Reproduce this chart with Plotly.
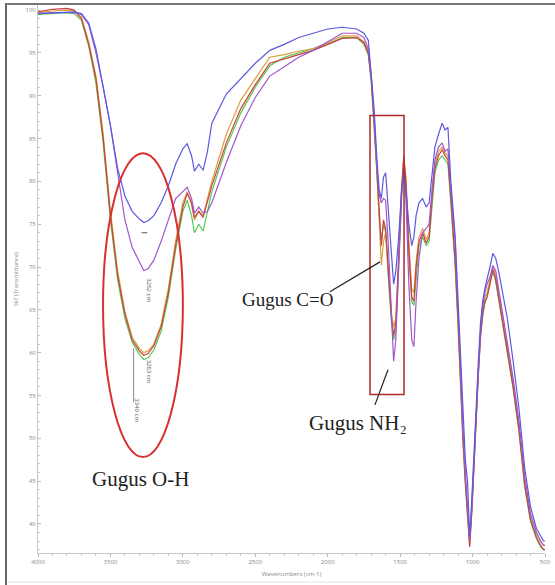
import plotly.graph_objects as go

# ---- data -------------------------------------------------------------
wavenumber = [
    4000, 3900, 3800, 3750, 3700, 3650, 3600, 3550, 3500, 3450,
    3400, 3350, 3300, 3270, 3240, 3200, 3150, 3100, 3050, 3000,
    2970, 2940, 2920, 2890, 2860, 2830, 2800, 2700, 2600, 2500,
    2400, 2300, 2200, 2100, 2000, 1900, 1800, 1750, 1720, 1700,
    1680, 1660, 1645, 1630, 1615, 1600, 1580, 1560, 1545, 1530,
    1510, 1490, 1475, 1460, 1440, 1420, 1405, 1390, 1370, 1345,
    1320, 1300, 1280, 1260, 1235, 1210, 1190, 1170, 1150, 1135,
    1120, 1100, 1085, 1065, 1050, 1035, 1020, 1005, 990, 975,
    960, 945, 930, 915, 900, 880, 860, 840, 820, 800,
    760, 720, 680, 640, 600, 560, 530, 510, 500,
]

t_blue = [
    99.6, 99.7, 99.8, 99.8, 99.6, 98.5, 95.5, 91.0, 86.5, 81.5,
    78.3, 76.5, 75.6, 75.2, 75.4, 76.0, 77.5, 79.5, 82.0, 83.8,
    84.4, 83.0, 81.2, 82.0, 81.3, 83.5, 86.8, 90.2, 92.0, 93.8,
    95.3, 96.0, 96.8, 97.3, 97.8, 98.0, 97.8, 97.3, 96.5, 92.5,
    88.5, 82.5, 79.0, 78.0, 80.5, 81.0, 76.0, 71.0, 68.0, 69.5,
    73.5, 79.0, 81.5, 79.0, 75.0, 72.5, 73.5, 76.0, 77.5, 78.0,
    77.0, 77.5, 81.0, 84.0, 85.5, 86.8, 86.0, 86.3, 80.0, 76.5,
    73.5, 66.0, 60.0, 52.0, 47.5, 45.0, 38.5, 43.0, 49.0, 54.0,
    59.0, 63.5, 66.0, 67.5, 68.5, 70.0, 71.6, 71.0, 69.5, 67.5,
    64.0, 59.0, 53.5, 46.5, 42.0, 39.5, 38.5, 38.0, 38.0,
]

t_purple = [
    99.6, 99.7, 99.7, 99.7, 99.5, 98.3, 95.0, 91.0, 86.5, 81.0,
    75.5, 72.3, 70.5, 69.6, 69.8, 70.8, 73.0, 75.5, 78.0, 78.8,
    79.3, 78.0, 76.3, 77.0, 76.3, 76.5, 77.5, 82.2, 86.5, 89.8,
    92.3, 93.4, 94.5, 95.3, 96.3, 97.3, 97.3, 96.8, 95.5, 92.5,
    87.8, 81.5, 78.5, 77.5, 78.0, 77.8, 72.0, 64.0, 59.0, 61.5,
    70.0, 78.5, 81.5, 78.0, 68.0, 61.5, 60.7, 66.0, 71.0, 74.0,
    74.5, 75.0, 79.0, 82.5, 84.0, 84.5, 83.5, 83.8, 79.0, 76.3,
    73.0, 65.0, 58.5, 50.5, 46.0, 42.0, 38.0, 42.0, 48.0, 53.5,
    58.0, 62.5, 65.5, 67.0, 68.0, 68.8, 70.2, 69.5, 67.5, 65.5,
    61.5, 57.0, 52.0, 45.5, 41.2, 39.0, 38.0, 37.5, 37.5,
]

t_red = [
    99.8, 100.1, 100.2, 100.0, 99.0, 96.0, 92.0, 85.0, 76.0, 69.0,
    64.5, 61.5, 60.2, 59.7, 59.9, 60.8, 63.0, 67.0, 72.5, 77.0,
    78.6, 77.5, 75.8, 76.5, 75.8, 77.5, 79.5, 84.5, 88.5, 91.3,
    93.8, 94.3, 94.8, 95.3, 96.0, 96.7, 96.8, 96.2, 95.0, 92.0,
    87.0, 81.0, 76.0, 72.5, 75.5, 74.5, 69.0, 64.0, 62.0, 63.5,
    71.0, 79.0, 82.8, 80.0, 72.0, 66.5, 66.0, 70.0, 73.0, 74.0,
    72.8, 73.5, 78.0, 81.5, 83.0, 83.7, 83.0, 82.5, 78.0, 74.5,
    70.5, 63.5, 57.0, 49.5, 45.0, 41.0, 37.3, 41.5, 47.5, 53.0,
    57.5, 62.0, 64.5, 66.0, 66.5, 68.0, 69.7, 68.5, 66.5, 64.5,
    60.5, 56.0, 51.0, 44.5, 40.5, 38.5, 37.5, 37.0, 37.0,
]

t_green = [
    99.5, 99.6, 99.7, 99.6, 98.8, 95.8, 91.5, 84.5, 75.5, 68.5,
    64.0, 61.2, 59.8, 59.2, 59.4, 60.3, 62.5, 66.5, 72.0, 76.5,
    77.8, 76.0, 74.0, 75.0, 74.2, 76.5, 78.8, 84.0, 88.0, 91.0,
    93.5, 94.5, 95.0, 95.5, 96.0, 96.8, 96.8, 96.0, 94.8, 91.8,
    86.8, 80.8, 76.0, 73.0, 75.0, 74.0, 68.5, 63.5, 61.5, 62.5,
    70.0, 78.0, 81.5, 79.0, 71.5, 66.0, 65.5, 69.0, 72.5, 73.5,
    72.5, 73.0, 77.5, 81.0, 82.5, 83.0, 82.5, 82.0, 77.5, 74.0,
    70.0, 63.0, 56.5, 49.0, 44.5, 40.5, 37.5, 41.5, 47.5, 53.0,
    57.5, 61.8, 64.3, 65.8, 66.5, 68.0, 69.5, 68.3, 66.3, 64.3,
    60.3, 55.8, 50.8, 44.3, 40.3, 38.3, 37.3, 37.0, 37.0,
]

t_orange = [
    99.7, 99.9, 100.0, 99.9, 99.2, 96.3, 92.3, 85.5, 76.5, 69.5,
    64.8, 61.8, 60.5, 60.0, 60.2, 61.0, 63.3, 67.5, 73.0, 77.5,
    78.8, 77.3, 75.5, 76.5, 76.0, 78.0, 80.0, 85.5, 89.5, 92.0,
    94.5, 94.8, 95.2, 95.5, 96.2, 97.0, 97.0, 96.3, 95.2, 92.2,
    87.3, 81.0, 75.0, 70.2, 73.0, 74.0, 69.5, 64.5, 63.0, 64.0,
    71.5, 79.5, 83.0, 80.5, 73.0, 67.5, 67.0, 70.5, 73.5, 74.5,
    73.2, 74.0, 78.5, 82.0, 83.5, 84.0, 83.3, 83.0, 78.5, 75.0,
    71.0, 64.0, 57.5, 50.0, 45.5, 41.5, 38.0, 42.0, 48.0, 53.5,
    58.0, 62.5, 65.0, 66.5, 67.0, 68.5, 70.0, 69.0, 67.0, 65.0,
    61.0, 56.5, 51.5, 45.0, 41.0, 39.0, 38.0, 37.5, 37.5,
]

series_names = ["Sampel 1", "Sampel 2", "Sampel 3", "Sampel 4", "Sampel 5"]
series_values = [t_green, t_orange, t_red, t_purple, t_blue]
series_colors = ["#55c855", "#d8a040", "#cc4040", "#a055d0", "#5a5ae0"]

x_ticks = [4000, 3500, 3000, 2500, 2000, 1500, 1000, 500]
y_ticks = [40, 45, 50, 55, 60, 65, 70, 75, 80, 85, 90, 95, 100]

# ---- figure -----------------------------------------------------------
fig = go.Figure()
for name, vals, col in zip(series_names, series_values, series_colors):
    fig.add_trace(go.Scatter(x=wavenumber, y=vals, mode="lines", name=name,
                             line=dict(color=col, width=1.2), showlegend=False))

W, H = 555, 585
ml, mr, mt, mb = 38, 10, 5, 32
pw, ph = W - ml - mr, H - mt - mb

def px(p):
    return (p - ml) / pw

def py(p):
    return (H - mb - p) / ph

serif = "Liberation Serif, Times New Roman, serif"
shapes = [
    # O-H ellipse
    dict(type="circle", xref="x", yref="y", x0=3551, x1=3000, y0=47.8, y1=83.3,
         line=dict(color="#d83030", width=2)),
    # C=O / NH2 box
    dict(type="rect", xref="x", yref="y", x0=1708, x1=1473, y0=55.1, y1=87.7,
         line=dict(color="#b02828", width=1.5)),
    # callout lines
    dict(type="line", xref="x", yref="y", x0=1985, y0=67.1, x1=1639, y1=70.6,
         line=dict(color="#222", width=1.2)),
    dict(type="line", xref="x", yref="y", x0=1674, y0=53.9, x1=1584, y1=58.0,
         line=dict(color="#222", width=1.2)),
    # peak-pick marks
    dict(type="line", xref="x", yref="y", x0=3340, y0=60.5, x1=3340, y1=54.2,
         line=dict(color="#888", width=1)),
    dict(type="line", xref="x", yref="y", x0=3285, y0=74.0, x1=3245, y1=74.0,
         line=dict(color="#555", width=1)),
    # picture frame
    dict(type="line", xref="paper", yref="paper", x0=px(6), x1=px(6), y0=py(585), y1=py(3),
         line=dict(color="#666", width=2)),
    dict(type="line", xref="paper", yref="paper", x0=px(6), x1=px(556), y0=py(4), y1=py(4),
         line=dict(color="#777", width=2)),
    dict(type="line", xref="paper", yref="paper", x0=px(7), x1=px(556), y0=py(582), y1=py(582),
         line=dict(color="#e2e2e2", width=1)),
]

annotations = [
    dict(x=3289, y=45.2, xref="x", yref="y", text="Gugus O-H", showarrow=False,
         font=dict(family=serif, size=21, color="#222")),
    dict(x=2281, y=66.2, xref="x", yref="y", text="Gugus C=O", showarrow=False,
         font=dict(family=serif, size=19, color="#222")),
    dict(x=1791, y=51.8, xref="x", yref="y", text="Gugus NH₂", showarrow=False,
         font=dict(family=serif, size=21, color="#222")),
    # tiny peak labels
    dict(x=3235, y=67.3, xref="x", yref="y", text="3262 cm", textangle=90, showarrow=False,
         font=dict(size=6, color="#555")),
    dict(x=3235, y=57.8, xref="x", yref="y", text="3263 cm", textangle=90, showarrow=False,
         font=dict(size=6, color="#555")),
    dict(x=3318, y=53.3, xref="x", yref="y", text="3340 cm", textangle=90, showarrow=False,
         font=dict(size=6, color="#555")),
]

fig.update_layout(
    width=W, height=H,
    margin=dict(l=ml, r=mr, t=mt, b=mb),
    paper_bgcolor="white", plot_bgcolor="white",
    shapes=shapes, annotations=annotations,
    xaxis=dict(range=[4000, 500], tickvals=x_ticks, ticktext=[str(v) for v in x_ticks],
               showgrid=False, zeroline=False, showline=True, linecolor="#c4c4c4",
               ticks="outside", ticklen=3, tickcolor="#bbb",
               minor=dict(ticks="outside", ticklen=2, tickcolor="#ccc", dtick=100),
               tickfont=dict(size=6, color="#888"),
               title=dict(text="Wavenumbers (cm-1)", font=dict(size=6, color="#888"),
                          standoff=6)),
    yaxis=dict(range=[36.6, 100.6], tickvals=y_ticks, ticktext=[str(v) for v in y_ticks],
               showgrid=False, zeroline=False, showline=True, linecolor="#c4c4c4",
               ticks="inside", ticklen=3, tickcolor="#bbb",
               minor=dict(ticks="inside", ticklen=2, tickcolor="#ccc", dtick=1),
               tickfont=dict(size=6, color="#888"),
               title=dict(text="%T (Transmittance)", font=dict(size=6, color="#888"),
                          standoff=6)),
)

fig.write_html("out.html")
